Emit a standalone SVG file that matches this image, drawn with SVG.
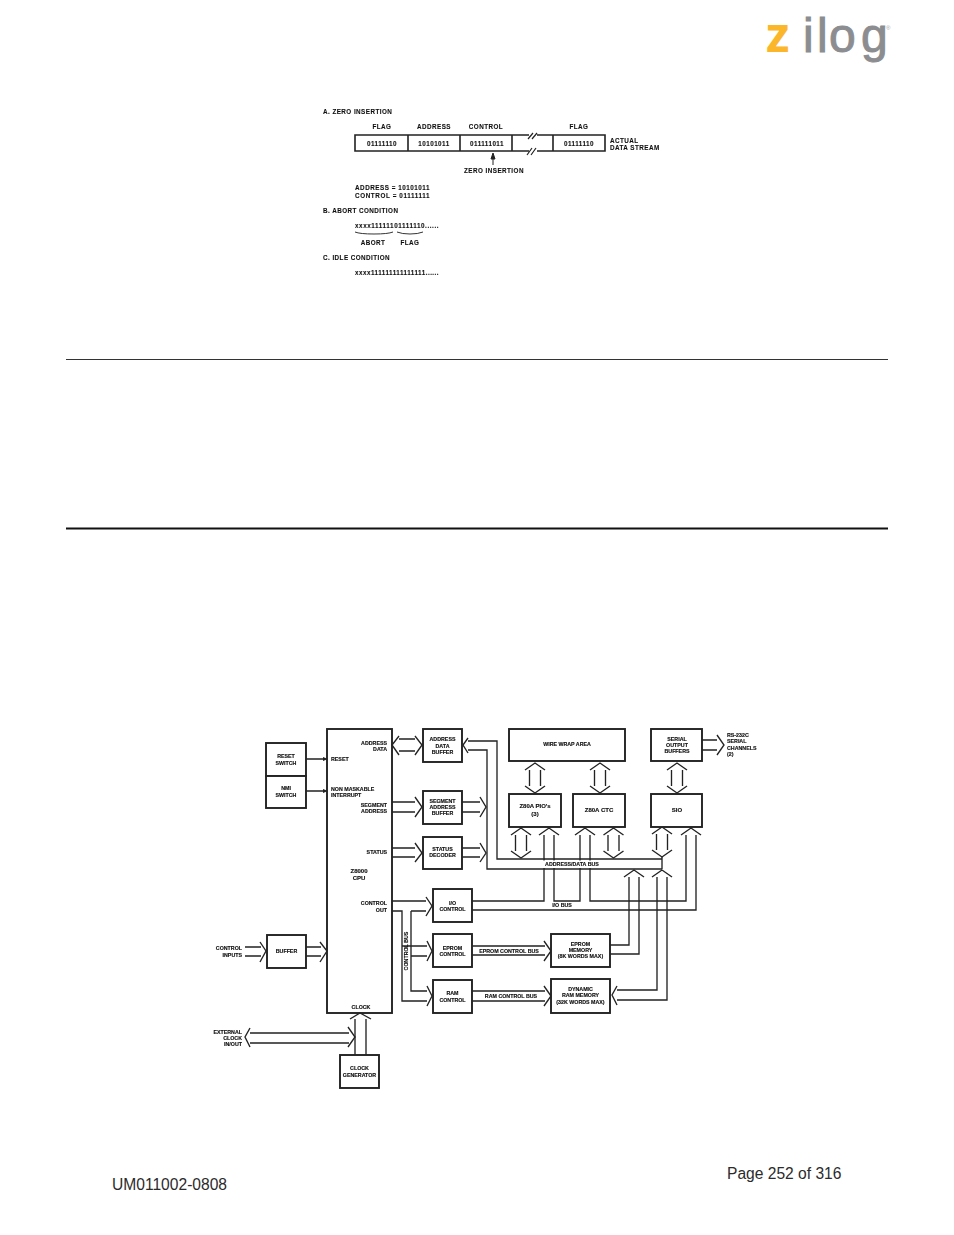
<svg xmlns="http://www.w3.org/2000/svg" width="954" height="1235" viewBox="0 0 954 1235">
<style>
text{font-family:"Liberation Sans",Arial,sans-serif}
.t{font-size:5.3px;font-weight:700;fill:#111;text-anchor:middle;stroke:#111;stroke-width:.15}
.r{font-size:5.3px;font-weight:700;fill:#111;text-anchor:end;stroke:#111;stroke-width:.15}
.l{font-size:5.3px;font-weight:700;fill:#111;stroke:#111;stroke-width:.15}
.u{font-size:6.3px;font-weight:700;fill:#111;letter-spacing:.45px;stroke:#111;stroke-width:.1}
.um{font-size:6.3px;font-weight:700;fill:#111;letter-spacing:.45px;text-anchor:middle;stroke:#111;stroke-width:.1}
.box{fill:#fff;stroke:#222;stroke-width:1.9}
.c{fill:none;stroke:#222;stroke-width:1.35}
.f{filter:url(#b)}
.foot{font-size:15.6px;fill:#2b2b2b}
</style>
<defs>
<filter id="b" filterUnits="userSpaceOnUse" x="0" y="0" width="954" height="1235"><feGaussianBlur stdDeviation="0.45"/></filter>
<path id="dv" class="c" d="M-10 7L0 0L10 7M-5.500 7V23M5.500 7V23M-10 23L0 30L10 23"/>
<path id="uh" class="c" d="M-10 7L0 0L10 7"/>
</defs>
<rect width="954" height="1235" fill="#fff"/>

<g id="logo">
<text x="766" y="52" font-size="48" font-weight="700" fill="#fbb62a" style="font-family:'Open Sans','Liberation Sans',sans-serif">z</text>
<text x="803 817 829 861" y="52" font-size="48" fill="#8c8d90" stroke="#8c8d90" stroke-width="1" style="font-family:'Liberation Sans',sans-serif">ilog</text>
<text x="886" y="30" font-size="6" fill="#a8a8a8">®</text>
</g>

<g id="figure-frames" class="f">
<text class="u" x="323" y="114">A. ZERO INSERTION</text>
<text class="um" x="382" y="129">FLAG</text>
<text class="um" x="434" y="129">ADDRESS</text>
<text class="um" x="486" y="129">CONTROL</text>
<text class="um" x="579" y="129">FLAG</text>
<path fill="none" stroke="#222" stroke-width="1.6" d="M529 135H355V151H529M537 135H605V151H537M408 135V151M460 135V151M512 135V151M553 135V151"/>
<path fill="none" stroke="#222" stroke-width="1.2" d="M528 139L533 133M532 139L537 133M527 155L532 148M531 155L536 148"/>
<text class="um" x="382" y="146">01111110</text>
<text class="um" x="434" y="146">10101011</text>
<text class="um" x="487" y="146">011111011</text>
<text class="um" x="579" y="146">01111110</text>
<text class="u" x="610" y="143">ACTUAL</text>
<text class="u" x="610" y="150">DATA STREAM</text>
<path fill="#222" stroke="#222" d="M493 153L495 159H491ZM493 159V165"/>
<text class="um" x="494" y="173">ZERO INSERTION</text>
<text class="u" x="355" y="190" textLength="75">ADDRESS = 10101011</text>
<text class="u" x="355" y="198" textLength="75">CONTROL = 01111111</text>
<text class="u" x="323" y="213">B. ABORT CONDITION</text>
<text class="u" x="355" y="228" textLength="84">xxxx11111101111110......</text>
<path fill="none" stroke="#333" stroke-width="1" d="M355 232Q360 234 374 234Q388 234 393 232M397 232Q402 234 410 234Q418 234 423 232"/>
<text class="um" x="373" y="245">ABORT</text>
<text class="um" x="410" y="245">FLAG</text>
<text class="u" x="323" y="260">C. IDLE CONDITION</text>
<text class="u" x="355" y="275" textLength="84">xxxx111111111111111......</text>
</g>

<g id="rules">
<rect x="66" y="359" width="822" height="1" fill="#333"/>
<rect x="66" y="527.500" width="822" height="2" fill="#111"/>
</g>

<g id="connectors" class="f">
<path class="c" d="M306 759H324M306 791H324"/>
<path fill="#222" d="M328 759L323 757V761ZM328 791L323 789V793Z"/>
<path class="c" d="M399 736L392 745L399 755M399 739H415M399 751H415M415 736L422 745L415 755"/>
<path class="c" d="M392 802H415M392 812H415M415 797L422 807L415 817"/>
<path class="c" d="M462 802H480M462 812H480M480 797L486 807L480 817"/>
<path class="c" d="M392 848H415M392 857H415M415 843L422 853L415 862"/>
<path class="c" d="M462 848H480M462 857H480M480 843L486 853L480 862"/>
<path class="c" d="M468 738L463 745L468 753M468 741H497V859H662M468 750H487V869H662M662 857V869"/>
<use href="#dv" x="535" y="763"/>
<use href="#dv" x="600" y="763"/>
<use href="#dv" x="677" y="763"/>
<use href="#dv" x="521" y="828"/>
<use href="#dv" x="613.500" y="828"/>
<use href="#dv" x="662" y="827"/>
<path class="c" d="M702 740H717M702 750H717M717 735L724 745L717 755"/>
<use href="#uh" x="549" y="828"/>
<use href="#uh" x="585" y="828"/>
<use href="#uh" x="691" y="828"/>
<use href="#uh" x="634" y="870"/>
<use href="#uh" x="662" y="870"/>
<path class="c" d="M472 901H544V835M554 835V901H580V835M590 835V901H686V835M472 910H696V835"/>
<path class="c" d="M629 877V945H610M639 877V954H610M657 877V990H617M667 877V1000H617M617 986L612 995L617 1005"/>
<path class="c" d="M392 901H426M392 911H402V1001H427M411 911H426M411 911V991H427M402 946H427M411 956H427M426 897L432 906L426 916M427 941L432 951L427 961M427 986L432 996L427 1006"/>
<path class="c" d="M472 946H545M472 955H545M544 941L551 951L544 961"/>
<path class="c" d="M472 991H545M472 1001H545M544 986L551 996L544 1006"/>
<path class="c" d="M245 947H261M245 956H261M260 942L266 951L260 962M306 947H321M306 956H321M320 942L327 951L320 962"/>
<path class="c" d="M250 1028L245 1037L250 1047M250 1033H349M250 1043H349M348 1027L355 1037L348 1047"/>
<path class="c" d="M350 1019L360 1013L371 1019M355 1019V1055M366 1019V1055"/>
</g>

<g id="connector-labels" class="f">
<rect x="543" y="860.500" width="58" height="7.500" fill="#fff"/>
<text class="t" x="572" y="866">ADDRESS/DATA BUS</text>
<text class="t" x="562" y="907">I/O BUS</text>
<text class="t" x="509" y="953">EPROM CONTROL BUS</text>
<text class="t" x="511" y="998">RAM CONTROL BUS</text>
<text class="t" transform="translate(408 951) rotate(-90)">CONTROL BUS</text>
<text class="r" x="242" y="950">CONTROL</text>
<text class="r" x="242" y="957">INPUTS</text>
<text class="r" x="242" y="1034">EXTERNAL</text>
<text class="r" x="242" y="1040">CLOCK</text>
<text class="r" x="242" y="1046">IN/OUT</text>
<text class="l" x="727" y="737">RS-232C</text>
<text class="l" x="727" y="743">SERIAL</text>
<text class="l" x="727" y="750">CHANNELS</text>
<text class="l" x="727" y="756">(2)</text>
</g>

<g id="reset-switch" class="f"><rect class="box" x="266" y="743" width="40" height="33"/><text class="t" x="286" y="758">RESET</text><text class="t" x="286" y="765">SWITCH</text></g>
<g id="nmi-switch" class="f"><rect class="box" x="266" y="776" width="40" height="32"/><text class="t" x="286" y="790">NMI</text><text class="t" x="286" y="797">SWITCH</text></g>
<g id="cpu" class="f"><rect class="box" style="fill:none" x="327" y="729" width="65" height="284"/>
<text class="l" x="331" y="761">RESET</text><text class="l" x="331" y="791">NON MASKABLE</text><text class="l" x="331" y="797">INTERRUPT</text>
<text class="r" x="387" y="745">ADDRESS</text><text class="r" x="387" y="751">DATA</text>
<text class="r" x="387" y="807">SEGMENT</text><text class="r" x="387" y="813">ADDRESS</text>
<text class="r" x="387" y="854">STATUS</text>
<text class="t" x="359" y="873" style="font-size:6px">Z8000</text><text class="t" x="359" y="879.500" style="font-size:6px">CPU</text>
<text class="r" x="387" y="905">CONTROL</text><text class="r" x="387" y="912">OUT</text>
<text class="t" x="361" y="1009">CLOCK</text></g>
<g id="address-data-buffer" class="f"><rect class="box" x="423" y="729" width="39" height="33"/><text class="t" x="442.500" y="741">ADDRESS</text><text class="t" x="442.500" y="747.500">DATA</text><text class="t" x="442.500" y="754">BUFFER</text></g>
<g id="segment-address-buffer" class="f"><rect class="box" x="423" y="791" width="39" height="33"/><text class="t" x="442.500" y="803">SEGMENT</text><text class="t" x="442.500" y="809">ADDRESS</text><text class="t" x="442.500" y="815">BUFFER</text></g>
<g id="status-decoder" class="f"><rect class="box" x="423" y="837" width="39" height="32"/><text class="t" x="442.500" y="851">STATUS</text><text class="t" x="442.500" y="857">DECODER</text></g>
<g id="io-control" class="f"><rect class="box" x="433" y="889" width="39" height="33"/><text class="t" x="452.500" y="905">I/O</text><text class="t" x="452.500" y="911">CONTROL</text></g>
<g id="eprom-control" class="f"><rect class="box" x="433" y="934" width="39" height="33"/><text class="t" x="452.500" y="950">EPROM</text><text class="t" x="452.500" y="956">CONTROL</text></g>
<g id="ram-control" class="f"><rect class="box" x="433" y="980" width="39" height="33"/><text class="t" x="452.500" y="995">RAM</text><text class="t" x="452.500" y="1002">CONTROL</text></g>
<g id="eprom-memory" class="f"><rect class="box" x="551" y="934" width="59" height="33"/><text class="t" x="580.500" y="946">EPROM</text><text class="t" x="580.500" y="952">MEMORY</text><text class="t" x="580.500" y="958">(8K WORDS MAX)</text></g>
<g id="dynamic-ram-memory" class="f"><rect class="box" x="551" y="979" width="59" height="34"/><text class="t" x="580.500" y="991">DYNAMIC</text><text class="t" x="580.500" y="997">RAM MEMORY</text><text class="t" x="580.500" y="1004">(32K WORDS MAX)</text></g>
<g id="buffer" class="f"><rect class="box" x="267" y="935" width="39" height="33"/><text class="t" x="286.500" y="953">BUFFER</text></g>
<g id="clock-generator" class="f"><rect class="box" x="340" y="1055" width="39" height="33"/><text class="t" x="359.500" y="1070">CLOCK</text><text class="t" x="359.500" y="1077">GENERATOR</text></g>
<g id="wire-wrap-area" class="f"><rect class="box" x="509" y="729" width="116" height="32"/><text class="t" x="567" y="746">WIRE WRAP AREA</text></g>
<g id="serial-output-buffers" class="f"><rect class="box" x="651" y="729" width="51" height="32"/><text class="t" x="677" y="741">SERIAL</text><text class="t" x="677" y="747">OUTPUT</text><text class="t" x="677" y="753">BUFFERS</text></g>
<g id="pio" class="f"><rect class="box" x="509" y="794" width="52" height="33"/><text class="t" x="535" y="808" style="font-size:6px">Z80A PIO's</text><text class="t" x="535" y="816" style="font-size:6px">(3)</text></g>
<g id="ctc" class="f"><rect class="box" x="573" y="794" width="52" height="33"/><text class="t" x="599" y="812" style="font-size:6px">Z80A CTC</text></g>
<g id="sio" class="f"><rect class="box" x="651" y="794" width="51" height="33"/><text class="t" x="677" y="812" style="font-size:6px">SIO</text></g>

<g id="footer">
<text class="foot" x="727" y="1179">Page 252 of 316</text>
<text class="foot" x="112" y="1190">UM011002-0808</text>
</g>
</svg>
